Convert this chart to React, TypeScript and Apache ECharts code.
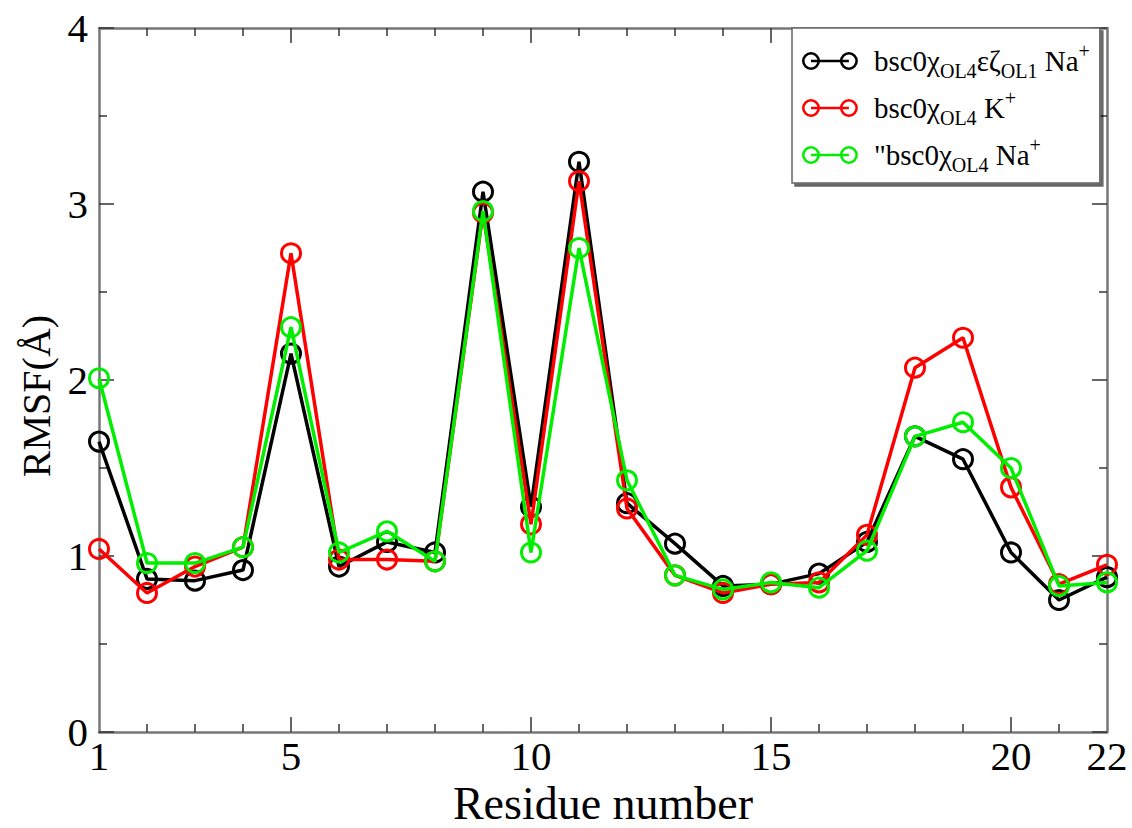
import React, { useEffect, useRef } from 'react';
import * as echarts from 'echarts';

const residues = [1, 2, 3, 4, 5, 6, 7, 8, 9, 10, 11, 12, 13, 14, 15, 16, 17, 18, 19, 20, 21, 22];
const blackVals = [1.65, 0.87, 0.86, 0.92, 2.15, 0.94, 1.08, 1.02, 3.07, 1.28, 3.24, 1.30, 1.07, 0.83, 0.84, 0.90, 1.08, 1.68, 1.55, 1.02, 0.75, 0.88];
const redVals = [1.04, 0.79, 0.94, 1.05, 2.72, 0.98, 0.98, 0.97, 2.95, 1.18, 3.13, 1.27, 0.89, 0.79, 0.84, 0.85, 1.12, 2.07, 2.24, 1.39, 0.84, 0.95];
const greenVals = [2.01, 0.96, 0.96, 1.05, 2.30, 1.02, 1.14, 0.97, 2.96, 1.02, 2.75, 1.43, 0.89, 0.81, 0.85, 0.82, 1.03, 1.68, 1.76, 1.50, 0.83, 0.85];

const xLabelValues = [1, 5, 10, 15, 20, 22];
const xMajorTicks = [5, 10, 15, 20];
const xMinorTicks = [2, 3, 4, 6, 7, 8, 9, 11, 12, 13, 14, 16, 17, 18, 19, 21];

const seriesNames = ['bsc0χOL4εζOL1 Na+', 'bsc0χOL4 K+', '"bsc0χOL4 Na+'];
const seriesColors = ['#000000', '#ff0000', '#00ee00'];
const legendRich: Record<string, string> = {
  'bsc0χOL4εζOL1 Na+': '{t0|bsc0χ}{s|OL4}{t|εζ}{s|OL1}{t| Na}{p|+}',
  'bsc0χOL4 K+': '{t0|bsc0χ}{s|OL4}{t| K}{p|+}',
  '"bsc0χOL4 Na+': '{t0|"bsc0χ}{s|OL4}{t| Na}{p|+}',
};

const FONT = 'Liberation Serif';
const legendIcon =
  'path://M0.5,10 A9.5,9.5 0 1,1 19.5,10 A9.5,9.5 0 1,1 0.5,10 Z M3.2,10 A6.8,6.8 0 1,0 16.8,10 A6.8,6.8 0 1,0 3.2,10 Z ' +
  'M40.5,10 A9.5,9.5 0 1,1 59.5,10 A9.5,9.5 0 1,1 40.5,10 Z M43.2,10 A6.8,6.8 0 1,0 56.8,10 A6.8,6.8 0 1,0 43.2,10 Z ' +
  'M10,8.6 L50,8.6 L50,11.4 L10,11.4 Z';

const axisLineStyle = { color: '#777', width: 2.5 };
const tickLineStyle = { color: '#333', width: 1.5 };

function buildOption() {
  const valueLists = [blackVals, redVals, greenVals];
  const series = valueLists.map((vals, i) => ({
    type: 'line',
    name: seriesNames[i],
    xAxisIndex: 0,
    yAxisIndex: 0,
    data: residues.map((r, j) => [r, vals[j]]),
    symbol: 'circle',
    symbolSize: 19,
    itemStyle: { color: 'transparent', borderColor: seriesColors[i], borderWidth: 3 },
    lineStyle: { color: seriesColors[i], width: 3.5 },
    z: 2 + i,
  }));

  const baseX = {
    type: 'value',
    min: 1,
    max: 22,
    splitLine: { show: false },
  };

  return {
    animation: false,
    backgroundColor: '#ffffff',
    grid: { left: 99, right: 25, top: 28, bottom: 96, containLabel: false, outerBoundsMode: 'none' },
    legend: {
      orient: 'vertical',
      left: 792,
      top: 28,
      padding: [13, 10, 8, 10],
      itemGap: 7,
      itemWidth: 58,
      itemHeight: 18,
      selectedMode: false,
      backgroundColor: '#ffffff',
      borderColor: '#666',
      borderWidth: 1.5,
      shadowColor: 'rgba(0,0,0,0.6)',
      shadowBlur: 1,
      shadowOffsetX: 3,
      shadowOffsetY: 3,
      itemStyle: { borderWidth: 0 },
      data: seriesNames.map((n, i) => ({ name: n, icon: legendIcon, itemStyle: { color: seriesColors[i], borderWidth: 0 } })),
      formatter: (name: string) => legendRich[name] || name,
      textStyle: {
        fontFamily: FONT,
        fontSize: 29,
        color: '#000',
        rich: {
          t0: { fontFamily: FONT, fontSize: 29, lineHeight: 40, color: '#000', padding: [0, 0, 0, 10], verticalAlign: 'middle' },
          t: { fontFamily: FONT, fontSize: 29, lineHeight: 40, color: '#000', verticalAlign: 'middle' },
          s: { fontFamily: FONT, fontSize: 20, lineHeight: 20, color: '#000', verticalAlign: 'bottom' },
          p: { fontFamily: FONT, fontSize: 20, lineHeight: 20, color: '#000', verticalAlign: 'top' },
        },
      },
    },
    xAxis: [
      {
        ...baseX,
        position: 'bottom',
        name: 'Residue number',
        nameLocation: 'middle',
        nameGap: 35,
        nameTextStyle: { fontFamily: FONT, fontSize: 46, lineHeight: 46, color: '#000' },
        axisLine: { show: true, lineStyle: axisLineStyle },
        axisTick: { show: true, inside: true, length: 15, lineStyle: tickLineStyle, customValues: xMajorTicks },
        axisLabel: { show: true, margin: 3, fontFamily: FONT, fontSize: 41, color: '#000', customValues: xLabelValues },
      },
      {
        ...baseX,
        position: 'bottom',
        axisLine: { show: false },
        axisTick: { show: true, inside: true, length: 8, lineStyle: tickLineStyle, customValues: xMinorTicks },
        axisLabel: { show: false },
      },
      {
        ...baseX,
        position: 'top',
        axisLine: { show: true, lineStyle: axisLineStyle },
        axisTick: { show: true, inside: true, length: 15, lineStyle: tickLineStyle, customValues: xMajorTicks },
        axisLabel: { show: false },
      },
      {
        ...baseX,
        position: 'top',
        axisLine: { show: false },
        axisTick: { show: true, inside: true, length: 8, lineStyle: tickLineStyle, customValues: xMinorTicks },
        axisLabel: { show: false },
      },
    ],
    yAxis: [
      {
        type: 'value',
        min: 0,
        max: 4,
        interval: 1,
        position: 'left',
        name: 'RMSF(Å)',
        nameLocation: 'middle',
        nameGap: 41,
        nameTextStyle: { fontFamily: FONT, fontSize: 40, color: '#000', padding: [0, 32, 0, 0] },
        splitLine: { show: false },
        axisLine: { show: true, lineStyle: axisLineStyle },
        axisTick: { show: true, inside: true, length: 15, lineStyle: tickLineStyle },
        minorTick: { show: true, splitNumber: 2, length: 8, lineStyle: tickLineStyle },
        axisLabel: { show: true, margin: 11, fontFamily: FONT, fontSize: 41, color: '#000' },
      },
      {
        type: 'value',
        min: 0,
        max: 4,
        interval: 1,
        position: 'right',
        splitLine: { show: false },
        axisLine: { show: true, lineStyle: axisLineStyle },
        axisTick: { show: true, inside: true, length: 15, lineStyle: tickLineStyle },
        minorTick: { show: true, splitNumber: 2, length: 8, lineStyle: tickLineStyle },
        axisLabel: { show: false },
      },
    ],
    series,
  };
}

export default function App() {
  const ref = useRef<HTMLDivElement>(null);
  useEffect(() => {
    if (!ref.current) return;
    const chart = echarts.init(ref.current, null, { renderer: 'svg' });
    chart.setOption(buildOption() as any);
    return () => chart.dispose();
  }, []);
  return (
    <div
      ref={ref}
      style={{ position: 'fixed', left: 0, top: 0, width: 1132, height: 828, background: '#ffffff' }}
    />
  );
}
